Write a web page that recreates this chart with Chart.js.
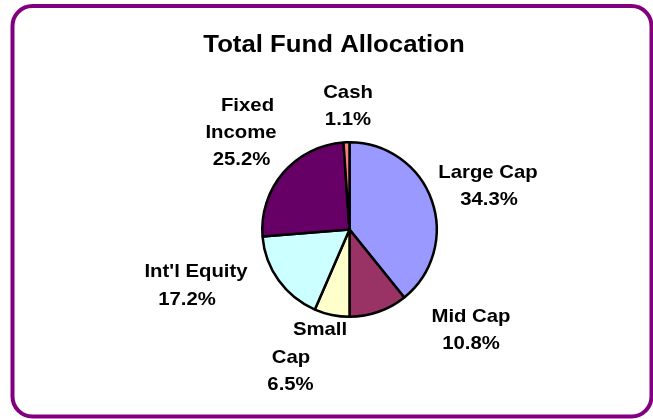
<!DOCTYPE html>
<html>
<head>
<meta charset="utf-8">
<script src="https://cdn.jsdelivr.net/npm/chart.js@4.4.0/dist/chart.umd.min.js"></script>
<style>
  html, body { margin: 0; padding: 0; background: #fff; }
  #wrap { position: relative; width: 653px; height: 419px; }
</style>
</head>
<body>
<div id="wrap"><canvas id="myChartArea" width="653" height="419"></canvas></div>
<script>
// data
var categories = ['Large Cap', 'Mid Cap', 'Small Cap', "Int'l Equity", 'Fixed Income', 'Cash'];
var allocation = [39.2, 10.8, 6.5, 17.2, 25.2, 1.1];
// percentages as printed on the chart labels
var printedPct = ['34.3%', '10.8%', '6.5%', '17.2%', '25.2%', '1.1%'];
var sliceColors = ['#9999FF', '#993366', '#FFFFCC', '#CCFFFF', '#660066', '#FF8080'];
var chartTitle = 'Total Fund Allocation';

// how each label is broken into lines
var labelLines = [
    ['Large Cap', printedPct[0]],
    ['Mid Cap', printedPct[1]],
    ['Small', 'Cap', printedPct[2]],
    ["Int'l Equity", printedPct[3]],
    ['Fixed', 'Income', printedPct[4]],
    ['Cash', printedPct[5]]
];
// line offsets from the pie centre (x centre, baseline)
var labelOffsets = [
    [[138.5, -51.5], [139.5, -24.5]],
    [[121.5, 92.5], [121.5, 119.5]],
    [[-29.5, 105.5], [-58.5, 133.5], [-59, 160.5]],
    [[-153.5, 47.5], [-162.5, 75.5]],
    [[-102, -118.5], [-108.5, -91.5], [-108, -64.5]],
    [[-1.5, -131.5], [-1.5, -104.5]]
];

function stretchText(ctx, txt, x, y, sx) {
    ctx.save();
    ctx.translate(x, y);
    ctx.scale(sx, 1);
    ctx.fillText(txt, 0, 0);
    ctx.restore();
}

var framePlugin = {
    id: 'frame',
    beforeDraw: function (chart) {
        var ctx = chart.ctx;
        ctx.save();
        ctx.fillStyle = '#ffffff';
        ctx.fillRect(0, 0, chart.width, chart.height);
        ctx.strokeStyle = '#800080';
        ctx.lineWidth = 4;
        ctx.beginPath();
        ctx.roundRect(12.5, 6, 639, 410.5, 20);
        ctx.stroke();
        ctx.restore();
    },
    afterDraw: function (chart) {
        var ctx = chart.ctx;
        var arc = chart.getDatasetMeta(0).data[0];
        var cx = arc.x, cy = arc.y;
        ctx.save();
        ctx.fillStyle = '#000';
        ctx.textAlign = 'center';
        ctx.textBaseline = 'alphabetic';
        ctx.font = 'bold 23px "Liberation Sans", Arial, sans-serif';
        stretchText(ctx, chartTitle, 334, 52, 1.12);
        ctx.font = 'bold 19px "Liberation Sans", Arial, sans-serif';
        for (var i = 0; i < labelLines.length; i++) {
            for (var j = 0; j < labelLines[i].length; j++) {
                var off = labelOffsets[i][j];
                stretchText(ctx, labelLines[i][j], cx + off[0], cy + off[1], 1.07);
            }
        }
        ctx.restore();
    }
};

var ctx_pie = document.getElementById('myChartArea');
var chart_pie = new Chart(ctx_pie, {
    type: 'pie',
    data: {
        labels: categories,
        datasets: [{
            data: allocation,
            backgroundColor: sliceColors,
            borderColor: '#000000',
            borderWidth: 2.5
        }]
    },
    options: {
        responsive: false,
        animation: false,
        layout: { padding: { left: 261, right: 215, top: 141, bottom: 101 } },
        plugins: {
            legend: { display: false },
            tooltip: { enabled: false },
            title: { display: false }
        }
    },
    plugins: [framePlugin]
});
</script>
</body>
</html>
